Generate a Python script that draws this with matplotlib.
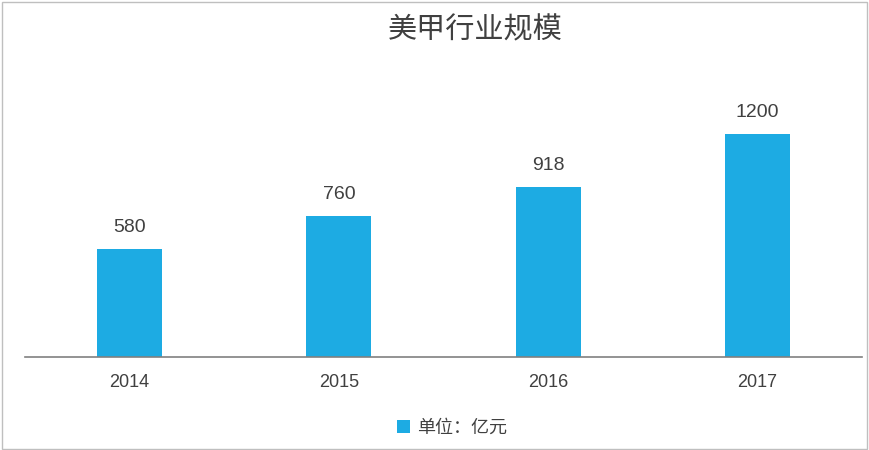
import matplotlib.pyplot as plt
from matplotlib.patches import Rectangle

plt.rcParams['font.family'] = ['Liberation Sans', 'Noto Sans CJK SC', 'DejaVu Sans']

years = ['2014', '2015', '2016', '2017']
values = [580, 760, 918, 1200]
BAR_COLOR = '#1DABE3'
TEXT = '#404040'

fig = plt.figure(figsize=(8.7, 4.5), dpi=100)
ax = fig.add_axes([25 / 870, 1 - 357 / 450, 837 / 870, 260 / 450])

x = range(len(years))
ax.bar(x, values, width=0.31, color=BAR_COLOR, label='单位：亿元')
for xi, v in zip(x, values):
    ax.text(xi, v + 70, str(v), ha='center', va='bottom', fontsize=14, color=TEXT)

ax.set_xlim(-0.5, len(years) - 0.5)
ax.set_ylim(0, 1400)
ax.set_xticks(list(x))
ax.set_xticklabels(years, fontsize=13, color=TEXT)
ax.tick_params(axis='x', length=0, pad=12)
ax.set_yticks([])
for side in ['top', 'right', 'left']:
    ax.spines[side].set_visible(False)
ax.spines['bottom'].set_color('#808080')
ax.spines['bottom'].set_linewidth(1.2)

fig.text(475 / 870, 1 - 30 / 450, '美甲行业规模', ha='center', va='center', fontsize=21,
         color=TEXT, family=['Noto Sans CJK SC'], fontweight='light')
fig.legend(loc='center', bbox_to_anchor=(0.52, 1 - 428 / 450), frameon=False,
           fontsize=13, handlelength=0.7, handleheight=0.7, handletextpad=0.4,
           labelcolor=TEXT, prop={'family': ['Noto Sans CJK SC'], 'size': 13})

fig.patches.append(Rectangle((0.002, 0.003), 0.995, 0.993, transform=fig.transFigure,
                             fill=False, edgecolor='#BFBFBF', linewidth=1))

fig.savefig('out.png', dpi=100)
